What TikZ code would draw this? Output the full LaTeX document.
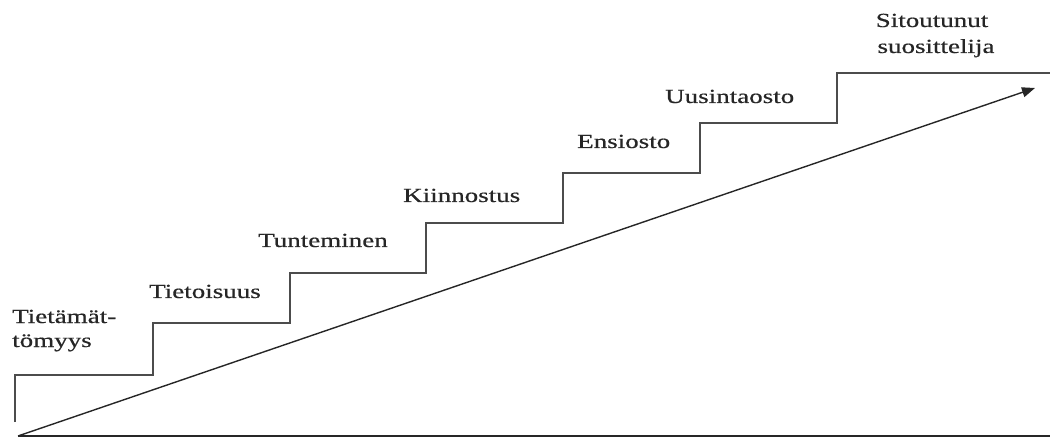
\documentclass[tikz,border=0pt]{standalone}
\usepackage{fontspec}
\setmainfont{Liberation Serif}[FakeStretch=1.35,FakeBold=0.6]
\usetikzlibrary{arrows.meta}
\begin{document}
\begin{tikzpicture}[x=1pt,y=-1pt,
  lbl/.style={anchor=base west,inner sep=0pt,font=\fontsize{20}{24}\selectfont,text=black!85},
  stair/.style={draw=black!70,line width=1.8pt},
  axis/.style={draw=black!85,line width=1.4pt}]
\useasboundingbox (0,0) rectangle (1057,438);
% stairs
\coordinate (s0) at (15,422);
\draw[stair] (s0) |- (153,375) |- (290,323) |- (426,273) |- (563,223) |- (700,173) |- (837,123) |- (1050,73);
% baseline and arrow
\coordinate (o) at (18,436);
\coordinate (e) at (1050,436);
\coordinate (t) at (1035,88);
\draw[axis] (o) -- (e);
\draw[axis,-{Triangle[length=13pt,width=10pt]}] (o) -- (t);
% labels
\node[lbl] (l1) at (12,323) {Tietämät-};
\node[lbl] (l1b) at (12,347) {tömyys};
\node[lbl] (l2) at (149,298) {Tietoisuus};
\node[lbl] (l3) at (258,247) {Tunteminen};
\node[lbl] (l4) at (403,202) {Kiinnostus};
\node[lbl] (l5) at (577,148) {Ensiosto};
\node[lbl] (l6) at (665,103) {Uusintaosto};
\node[lbl,anchor=base] (l7) at (932,27) {Sitoutunut};
\node[lbl,anchor=base] (l7b) at (936,53) {suosittelija};
\end{tikzpicture}
\end{document}
